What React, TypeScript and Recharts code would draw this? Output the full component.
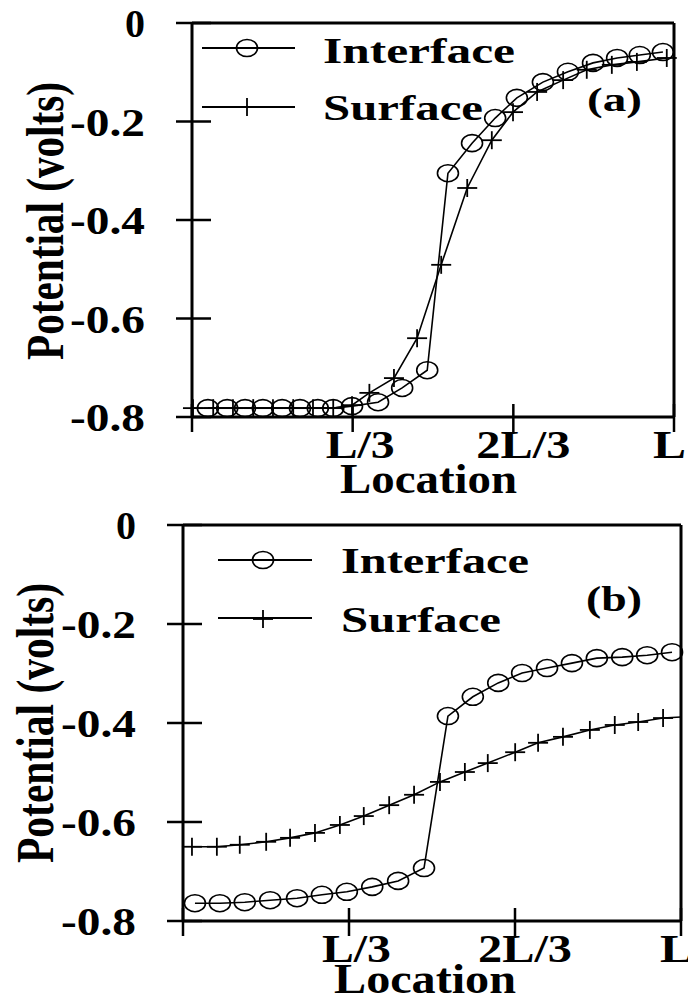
import { LineChart, Line, XAxis, YAxis, ReferenceLine, Customized } from 'recharts';

const FONT = '"Liberation Serif", "Times New Roman", serif';

const xTicks = [0, 1 / 3, 2 / 3, 1];
const xTickLabels = ['', 'L/3', '2L/3', 'L'];
const yTicks = [-0.8, -0.6, -0.4, -0.2, 0];
const yTickLabels = ['-0.8', '-0.6', '-0.4', '-0.2', '0'];

// panel (a)
const interfaceAX = [0.033, 0.073, 0.11, 0.147, 0.187, 0.224, 0.261, 0.293, 0.332, 0.386, 0.436, 0.488, 0.531, 0.581, 0.629, 0.674, 0.728, 0.78, 0.832, 0.882, 0.929, 0.977];
const interfaceAY = [-0.782, -0.782, -0.782, -0.782, -0.782, -0.782, -0.782, -0.782, -0.778, -0.77, -0.741, -0.705, -0.305, -0.244, -0.193, -0.152, -0.12, -0.099, -0.081, -0.071, -0.065, -0.059];
const surfaceAX = [0.002, 0.044, 0.085, 0.127, 0.168, 0.21, 0.251, 0.293, 0.332, 0.368, 0.419, 0.467, 0.517, 0.571, 0.622, 0.666, 0.716, 0.77, 0.819, 0.871, 0.923, 0.985];
const surfaceAY = [-0.782, -0.782, -0.782, -0.782, -0.782, -0.782, -0.782, -0.782, -0.776, -0.751, -0.721, -0.64, -0.491, -0.335, -0.238, -0.181, -0.14, -0.116, -0.095, -0.085, -0.079, -0.071];

// panel (b)
const interfaceBX = [0.024, 0.074, 0.124, 0.175, 0.229, 0.279, 0.329, 0.38, 0.432, 0.484, 0.532, 0.582, 0.633, 0.681, 0.731, 0.781, 0.831, 0.882, 0.932, 0.982];
const interfaceBY = [-0.764, -0.764, -0.762, -0.758, -0.754, -0.747, -0.741, -0.731, -0.719, -0.693, -0.386, -0.347, -0.319, -0.299, -0.289, -0.279, -0.269, -0.267, -0.263, -0.257];
const surfaceBX = [0.018, 0.068, 0.114, 0.167, 0.215, 0.265, 0.315, 0.363, 0.414, 0.464, 0.516, 0.566, 0.612, 0.667, 0.713, 0.763, 0.817, 0.867, 0.914, 0.964, 1.0];
const surfaceBY = [-0.65, -0.65, -0.646, -0.64, -0.632, -0.622, -0.606, -0.588, -0.566, -0.545, -0.519, -0.499, -0.481, -0.459, -0.44, -0.428, -0.414, -0.404, -0.398, -0.39, -0.388];

const toPoints = (xs: number[], ys: number[]) => xs.map((x, i) => ({ x, y: ys[i] }));

const yTickWidths: Record<string, number> = { '0': 20 };
const xTickBox: Record<string, [number, number]> = {
  'L/3': [-27, 69],
  '2L/3': [-37, 94],
  L: [-21, 33],
};

function YTick(props: any) {
  const { x, y, index } = props;
  const label = yTickLabels[index];
  const w = yTickWidths[label] ?? 75;
  return (
    <g>
      <line x1={x - 16} x2={x + 19} y1={y} y2={y} stroke="#000" strokeWidth={2.5} />
      <text x={x - 47 - w} y={y + 14} textLength={w} lengthAdjust="spacingAndGlyphs"
        fontFamily={FONT} fontWeight="bold" fontSize={41} fill="#000">{label}</text>
    </g>
  );
}

function XTick(props: any) {
  const { x, y, index } = props;
  const label = xTickLabels[index];
  const box = xTickBox[label];
  return (
    <g>
      <line x1={x} x2={x} y1={y - 13} y2={y + 15} stroke="#000" strokeWidth={2.5} />
      {box && (
        <text x={x + box[0]} y={y + 41} textLength={box[1]} lengthAdjust="spacingAndGlyphs"
          fontFamily={FONT} fontWeight="bold" fontSize={41} fill="#000">{label}</text>
      )}
    </g>
  );
}

function Ring({ cx, cy }: { cx: number; cy: number }) {
  return <ellipse cx={cx} cy={cy} rx={10.5} ry={8.5} fill="none" stroke="#000" strokeWidth={1.6} />;
}

function Plus({ cx, cy }: { cx: number; cy: number }) {
  return (
    <g>
      <line x1={cx - 10} x2={cx + 10} y1={cy} y2={cy} stroke="#000" strokeWidth={1.8} />
      <line x1={cx} x2={cx} y1={cy - 9} y2={cy + 9} stroke="#000" strokeWidth={1.8} />
    </g>
  );
}

const ringDot = (p: any) => <Ring key={`r-${p.index}`} cx={p.cx} cy={p.cy} />;
// the last surface point sits on the frame edge and has no marker in the original
const plusDot = (p: any) =>
  p.payload && p.payload.x >= 1 ? <g key={`p-${p.index}`} /> : <Plus key={`p-${p.index}`} cx={p.cx} cy={p.cy} />;

function Txt({ x, y, w, size, children }: any) {
  return (
    <text x={x} y={y} textLength={w} lengthAdjust="spacingAndGlyphs"
      fontFamily={FONT} fontWeight="bold" fontSize={size} fill="#000">{children}</text>
  );
}

function VLabel({ x, y, len }: { x: number; y: number; len: number }) {
  return (
    <text transform={`translate(${x},${y}) scale(1.3,1) rotate(-90)`} x={0} y={0}
      textLength={len} lengthAdjust="spacingAndGlyphs"
      fontFamily={FONT} fontWeight="bold" fontSize={41} fill="#000">Potential (volts)</text>
  );
}

function DecorA() {
  return (
    <g>
      <line x1={202} x2={295} y1={48} y2={48} stroke="#000" strokeWidth={1.8} />
      <Ring cx={247} cy={48} />
      <Txt x={323} y={63} w={192} size={36}>Interface</Txt>
      <line x1={202} x2={295} y1={107} y2={107} stroke="#000" strokeWidth={1.8} />
      <Plus cx={247} cy={107} />
      <Txt x={323} y={120} w={160} size={36}>Surface</Txt>
      <Txt x={587} y={111} w={55} size={33}>(a)</Txt>
      <Txt x={340} y={493} w={177} size={42}>Location</Txt>
      <VLabel x={63} y={360} len={278} />
    </g>
  );
}

function DecorB() {
  return (
    <g>
      <line x1={218} x2={312} y1={60} y2={60} stroke="#000" strokeWidth={1.8} />
      <Ring cx={263} cy={60} />
      <Txt x={341} y={73} w={188} size={36}>Interface</Txt>
      <line x1={218} x2={312} y1={118} y2={118} stroke="#000" strokeWidth={1.8} />
      <Plus cx={263} cy={119} />
      <Txt x={341} y={132} w={160} size={36}>Surface</Txt>
      <Txt x={586} y={111} w={56} size={36}>(b)</Txt>
      <Txt x={334} y={493} w={182} size={42}>Location</Txt>
      <VLabel x={53} y={363} len={280} />
    </g>
  );
}

interface PanelProps {
  height: number;
  margin: { top: number; right: number; bottom: number; left: number };
  yAxisWidth: number;
  xAxisHeight: number;
  interfaceData: { x: number; y: number }[];
  surfaceData: { x: number; y: number }[];
  decor: () => JSX.Element;
}

function Panel({ height, margin, yAxisWidth, xAxisHeight, interfaceData, surfaceData, decor }: PanelProps) {
  return (
    <LineChart width={688} height={height} margin={margin}>
      <XAxis dataKey="x" type="number" domain={[0, 1]} ticks={xTicks} tick={XTick}
        tickLine={false} tickSize={0} tickMargin={0} height={xAxisHeight}
        axisLine={{ stroke: '#000', strokeWidth: 3 }} interval={0} />
      <YAxis type="number" domain={[-0.8, 0]} ticks={yTicks} tick={YTick}
        tickLine={false} tickSize={0} tickMargin={0} width={yAxisWidth}
        axisLine={{ stroke: '#000', strokeWidth: 3 }} interval={0} />
      <ReferenceLine y={0} stroke="#000" strokeWidth={3} />
      <ReferenceLine x={1} stroke="#000" strokeWidth={3} />
      <Line data={interfaceData} dataKey="y" type="linear" stroke="#000" strokeWidth={1.6}
        dot={ringDot} activeDot={false} isAnimationActive={false} />
      <Line data={surfaceData} dataKey="y" type="linear" stroke="#000" strokeWidth={1.6}
        dot={plusDot} activeDot={false} isAnimationActive={false} />
      <Customized component={decor} />
    </LineChart>
  );
}

export default function App() {
  return (
    <div style={{ position: 'absolute', left: 0, top: 0, width: 688, height: 999, background: '#fff', overflow: 'hidden' }}>
      <div style={{ position: 'absolute', left: 0, top: 0 }}>
        <Panel height={510} margin={{ top: 23, right: 14, bottom: 0, left: 0 }} yAxisWidth={192} xAxisHeight={93}
          interfaceData={toPoints(interfaceAX, interfaceAY)} surfaceData={toPoints(surfaceAX, surfaceAY)} decor={DecorA} />
      </div>
      <div style={{ position: 'absolute', left: 0, top: 500 }}>
        <Panel height={499} margin={{ top: 25, right: 7, bottom: 0, left: 0 }} yAxisWidth={183} xAxisHeight={78}
          interfaceData={toPoints(interfaceBX, interfaceBY)} surfaceData={toPoints(surfaceBX, surfaceBY)} decor={DecorB} />
      </div>
    </div>
  );
}
